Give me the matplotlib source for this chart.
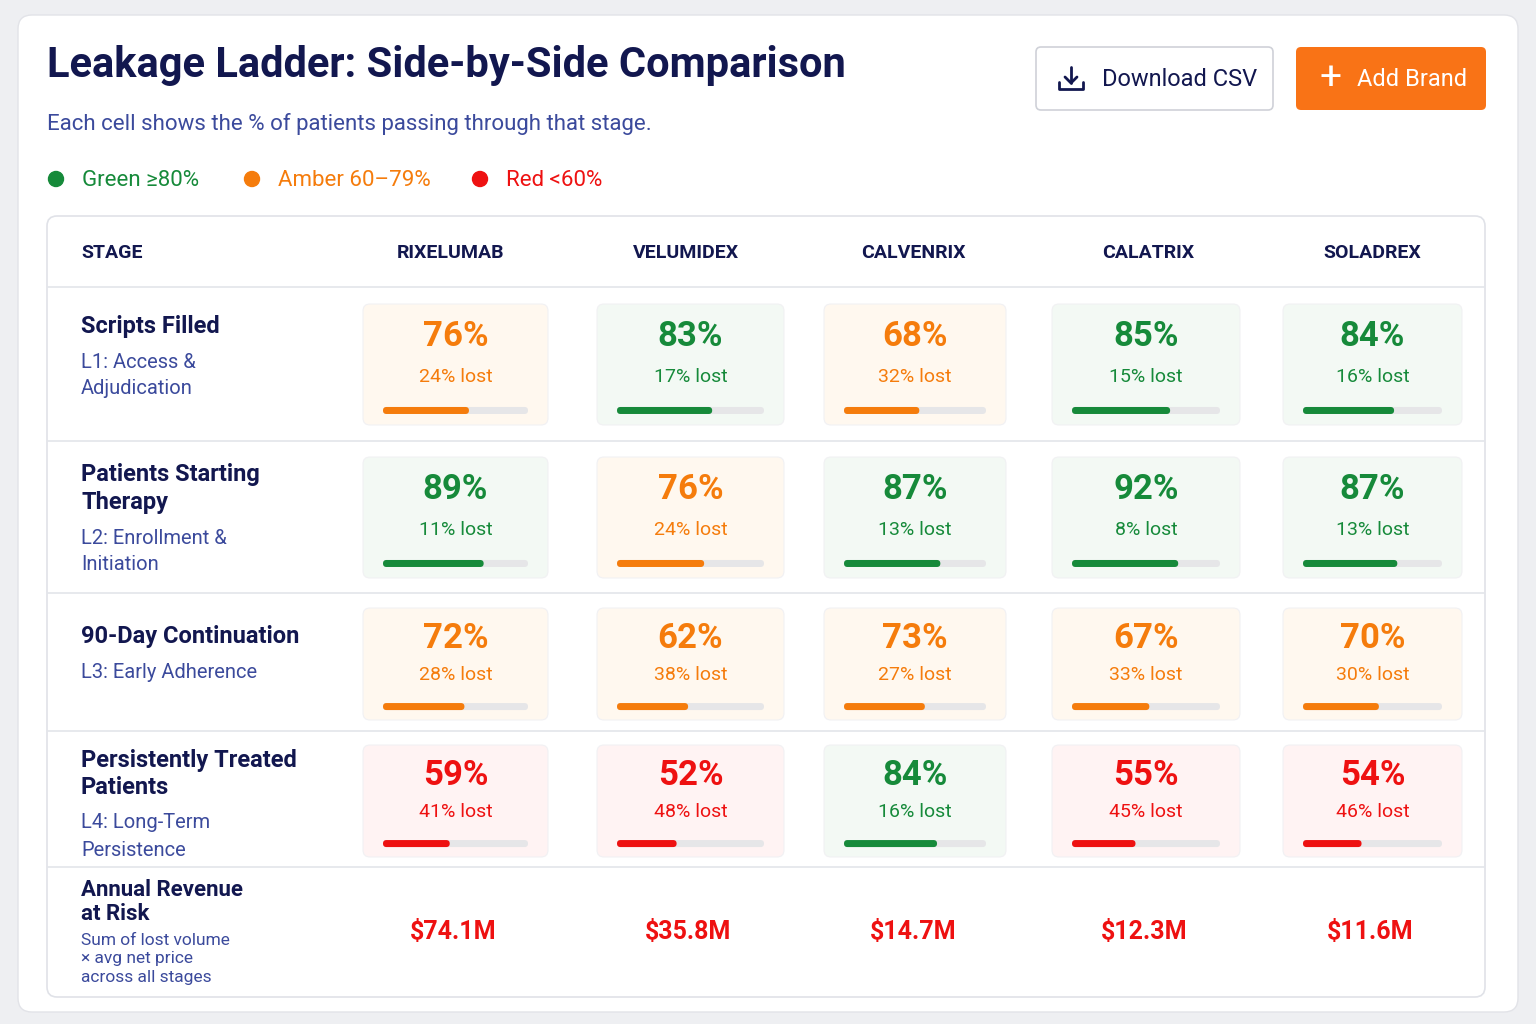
import matplotlib
matplotlib.use("Agg")
import matplotlib.pyplot as plt
from matplotlib.patches import FancyBboxPatch, Circle

plt.rcParams['font.family'] = ['Roboto', 'DejaVu Sans']

brands = ["RIXELUMAB", "VELUMIDEX", "CALVENRIX", "CALATRIX", "SOLADREX"]
stages = ["Scripts Filled", "Patients Starting\nTherapy", "90-Day Continuation", "Persistently Treated\nPatients"]
sublabels = ["L1: Access &\nAdjudication", "L2: Enrollment &\nInitiation", "L3: Early Adherence", "L4: Long-Term\nPersistence"]
values = [
    [76, 83, 68, 85, 84],
    [89, 76, 87, 92, 87],
    [72, 62, 73, 67, 70],
    [59, 52, 84, 55, 54],
]
revenue = ["$74.1M", "$35.8M", "$14.7M", "$12.3M", "$11.6M"]

NAVY = "#12174f"
BLUE = "#3b4a9c"
GREEN_T, GREEN_B, GREEN_BG = "#168a3a", "#168a3a", "#f3f9f4"
AMB_T, AMB_B, AMB_BG = "#f57c0c", "#f57c0c", "#fff8ef"
RED_T, RED_B, RED_BG = "#ee1111", "#ee1111", "#fff3f3"

def palette(v):
    if v >= 80: return GREEN_T, GREEN_B, GREEN_BG
    if v >= 60: return AMB_T, AMB_B, AMB_BG
    return RED_T, RED_B, RED_BG

fig = plt.figure(figsize=(15.36, 10.24), dpi=100)
fig.patch.set_facecolor("#eeeff2")
ax = fig.add_axes([0, 0, 1, 1])
ax.set_xlim(0, 1536); ax.set_ylim(1024, 0); ax.axis("off")

def rbox(x0, y0, x1, y1, fc, ec="none", lw=1, r=8, z=1):
    ax.add_patch(FancyBboxPatch((x0, y0), x1 - x0, y1 - y0,
                                boxstyle=f"round,pad=0,rounding_size={r}",
                                fc=fc, ec=ec, lw=lw, zorder=z))

rbox(18, 15, 1518, 1012, "white", ec="#e2e3e8", lw=1, r=14)

ax.text(47, 65, "Leakage Ladder: Side-by-Side Comparison", fontsize=30, fontweight="bold",
        color=NAVY, va="center", ha="left")
ax.text(47, 124, "Each cell shows the % of patients passing through that stage.", fontsize=16,
        color=BLUE, va="center", ha="left")

for x, label, c in [(56, "Green ≥80%", GREEN_T), (252, "Amber 60–79%", AMB_T), (480, "Red <60%", RED_T)]:
    ax.add_patch(Circle((x, 179), 7.5, color=c, zorder=3))
    ax.text(x + 26, 180, label, fontsize=16, color=c, va="center", ha="left")

# buttons
rbox(1036, 47, 1273, 110, "white", ec="#cfd1d8", lw=1.2, r=5)
# download icon drawn as lines
ax.plot([1071, 1071], [67, 83], color=NAVY, lw=2, solid_capstyle="round", zorder=3)
ax.plot([1065, 1071, 1077], [77, 83, 77], color=NAVY, lw=2, solid_capstyle="round", zorder=3)
ax.plot([1059, 1059, 1083, 1083], [82, 89, 89, 82], color=NAVY, lw=2, solid_capstyle="round", zorder=3)
ax.text(1102, 79, "Download CSV", fontsize=17, color=NAVY, va="center", ha="left")
rbox(1296, 47, 1486, 110, "#f97316", r=5)
ax.text(1331, 78, "+", fontsize=28, color="white", va="center", ha="center")
ax.text(1357, 79, "Add Brand", fontsize=17, color="white", va="center", ha="left")

rbox(47, 216, 1485, 997, "white", ec="#e0e2e8", lw=1.2, r=10)
col_cx = [455, 690, 915, 1146, 1372]
col_x = [(363, 548), (597, 784), (824, 1006), (1052, 1240), (1283, 1462)]
ax.text(81, 253, "STAGE", fontsize=14, fontweight="bold", color=NAVY, va="center")
for cx, b in zip([451, 686, 913, 1148, 1372], brands):
    ax.text(cx, 253, b, fontsize=14, fontweight="bold", color=NAVY, va="center", ha="center")

for y in [287, 441, 593, 731, 867]:
    ax.plot([48, 1484], [y, y], color="#e3e5ea", lw=1.2, zorder=2)

row_y = [(304, 425), (457, 578), (608, 720), (745, 857)]
name_y = [326, 475, 636, 760]
for i in range(len(stages)):
    y = name_y[i]
    for k, line in enumerate(stages[i].split("\n")):
        ax.text(81, y + 27 * k, line, fontsize=17, fontweight="bold", color=NAVY, va="center")
    y = y + 27 * (len(stages[i].split("\n")) - 1) + 36
    for k, line in enumerate(sublabels[i].split("\n")):
        ax.text(81, y + 27 * k, line, fontsize=14.5, color=BLUE, va="center")
    y0, y1 = row_y[i]
    for j in range(len(brands)):
        v = values[i][j]
        tc, bc, bg = palette(v)
        x0, x1 = col_x[j]
        rbox(x0, y0, x1, y1, bg, ec="#f1f1f3", lw=0.8, r=7, z=2)
        cx = (x0 + x1) / 2
        h = y1 - y0
        ax.text(cx, y0 + 0.27 * h, f"{v}%", fontsize=25, fontweight="bold", color=tc,
                va="center", ha="center", zorder=3)
        ax.text(cx, y0 + 0.60 * h, f"{100 - v}% lost", fontsize=14, color=tc,
                va="center", ha="center", zorder=3)
        bx0, bx1 = x0 + 20, x1 - 20
        by = y0 + 0.88 * h
        rbox(bx0, by - 3.5, bx1, by + 3.5, "#e6e6e8", r=3.5, z=3)
        rbox(bx0, by - 3.5, bx0 + (bx1 - bx0) * v / 100 * 0.78, by + 3.5, bc, r=3.5, z=4)

ax.text(81, 902, "Annual Revenue\nat Risk", fontsize=16, fontweight="bold", color=NAVY,
        va="center", linespacing=1.1)
ax.text(81, 959, "Sum of lost volume\n× avg net price\nacross all stages", fontsize=12.5,
        color=BLUE, va="center", linespacing=1.3)
for cx, r in zip(col_cx, revenue):
    ax.text(cx - 2, 932, r, fontsize=18, fontweight="bold", color=RED_T, va="center", ha="center")

fig.savefig("out.png", dpi=100, facecolor=fig.get_facecolor())
